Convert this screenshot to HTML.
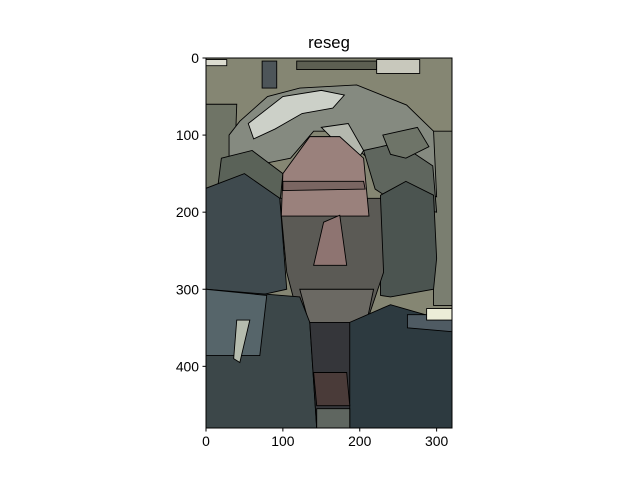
<!DOCTYPE html>
<html><head><meta charset="utf-8"><style>
body{margin:0;background:#fff;}
svg text{font-family:"Liberation Sans",sans-serif;}
</style></head><body>
<svg id="chart" width="640" height="480" viewBox="0 0 640 480" xmlns="http://www.w3.org/2000/svg">
<rect x="0" y="0" width="640" height="480" fill="#fff"/>
<text x="329" y="48" font-size="16.7" text-anchor="middle" fill="#000">reseg</text>
<clipPath id="clip"><rect x="206" y="58" width="246" height="370"/></clipPath>
<g id="img" clip-path="url(#clip)"></g>
<rect x="206" y="58" width="246" height="370" fill="none" stroke="#000" stroke-width="1"/>
<g id="ticks"></g>
</svg>
<script>
const xTicks=[0,100,200,300];
const yTicks=[0,100,200,300,400];
const imgW=320, imgH=480;
const regionNames=["background","left-top","top-dark-column","top-strip","top-right-light","top-left-light","right-strip","hair","hair-light","hair-dark-left","hair-dark-right","hair-streak-a","hair-streak-b","left-coat","right-hair","mid-face","forehead","forehead-band","nose","lower-face","left-bottom","left-teal","left-light-patch","neck","right-body","right-jacket","chin-shadow","bottom-gray","light-stripe"];
const regionColors=["#858673","#6f7466","#4d5559","#5d5f52","#c8c8bc","#dcdcd0","#7a7e70","#858a80","#ccd0c8","#5a6258","#5f665e","#b4b8ae","#6e7468","#3f4a4e","#4b5450","#5b5a55","#9a817c","#7a6662","#8e7471","#6b6963","#3c4749","#56656a","#b5bcae","#35363a","#2d3a40","#4f5b63","#4a3b39","#5f6660","#ecedd8"];
const regionPoints=[
"0,0 320,0 320,480 0,480",
"0,60 40,60 35,200 0,200",
"73,4 92,4 92,39 73,39",
"118,4 222,4 222,15 118,15",
"222,2 278,2 278,20 222,20",
"0,2 27,2 27,10 0,10",
"296,95 320,95 320,321 296,321",
"30,100 44,82 80,50 122,39 196,35 261,61 296,95 300,180 230,150 200,120 170,95 140,95 110,130 60,140 30,160",
"55,85 100,50 150,42 180,48 165,65 125,72 90,92 62,105",
"20,130 60,120 100,150 95,200 40,190 15,170",
"205,120 250,110 295,140 300,200 250,190 220,170",
"150,90 185,85 205,120 195,135 170,110",
"230,100 275,90 290,115 260,130 240,125",
"0,169 50,150 96,182 105,300 60,310 0,300",
"227,178 260,160 296,178 300,260 296,300 240,310 227,308",
"96,182 227,182 231,278 209,343 122,343 105,278",
"100,150 135,102 174,102 205,130 212,205 98,205",
"100,160 205,160 207,170 100,172",
"153,213 174,204 183,269 140,269",
"122,300 218,300 209,343 135,348",
"0,300 122,310 135,343 144,480 0,480",
"0,300 79,308 70,386 0,386",
"40,340 57,340 44,395 36,390",
"135,343 200,343 187,480 144,480",
"187,343 240,320 320,343 320,480 187,480",
"262,333 320,333 320,355 262,350",
"140,408 183,408 187,451 144,451",
"144,455 187,455 187,480 144,480",
"287,325 320,325 320,340 287,340"
];
const sx=v=>206+v*246/imgW, sy=v=>58+v*370/imgH;
const NS="http://www.w3.org/2000/svg";
const g=document.getElementById('img');
regionPoints.forEach((p,i)=>{
  const el=document.createElementNS(NS,'polygon');
  const pts=p.split(' ').map(q=>{const [a,b]=q.split(',').map(Number);return sx(a)+','+sy(b);}).join(' ');
  el.setAttribute('points',pts);
  el.setAttribute('fill',regionColors[i]);
  el.setAttribute('stroke','#000');
  el.setAttribute('stroke-width','0.9');
  
  
  g.appendChild(el);
});
const t=document.getElementById('ticks');
xTicks.forEach(v=>{
  const l=document.createElementNS(NS,'line');
  l.setAttribute('x1',sx(v));l.setAttribute('x2',sx(v));l.setAttribute('y1',428);l.setAttribute('y2',431.5);l.setAttribute('stroke','#000');
  
  
  t.appendChild(l);
  const tx=document.createElementNS(NS,'text');
  tx.setAttribute('x',sx(v));tx.setAttribute('y',446);tx.setAttribute('font-size','13.9');tx.setAttribute('text-anchor','middle');
  tx.textContent=v;
  
  
  t.appendChild(tx);
});
yTicks.forEach(v=>{
  const l=document.createElementNS(NS,'line');
  l.setAttribute('x1',202.5);l.setAttribute('x2',206);l.setAttribute('y1',sy(v));l.setAttribute('y2',sy(v));l.setAttribute('stroke','#000');
  
  
  t.appendChild(l);
  const tx=document.createElementNS(NS,'text');
  tx.setAttribute('x',199);tx.setAttribute('y',sy(v)+5);tx.setAttribute('font-size','13.9');tx.setAttribute('text-anchor','end');
  tx.textContent=v;
  
  
  t.appendChild(tx);
});
</script>
</body></html>
